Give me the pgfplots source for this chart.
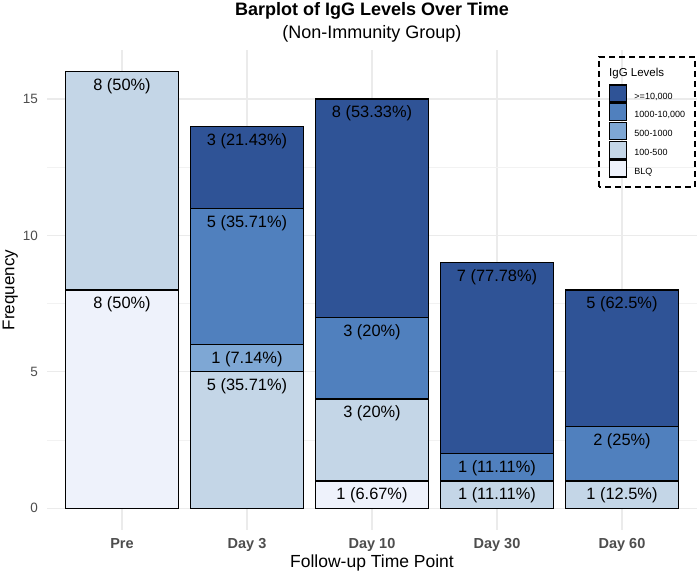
\documentclass[border=0pt]{standalone}
\usepackage{fontspec}
\setmainfont{Liberation Sans}
\usepackage{pgfplots}
\usepackage{pgfplotstable}
\pgfplotsset{compat=1.18}

\definecolor{cBLQ}{RGB}{238,242,251}
\definecolor{cLow}{RGB}{196,214,231}
\definecolor{cMid}{RGB}{126,167,212}
\definecolor{cHigh}{RGB}{80,128,190}
\definecolor{cTop}{RGB}{47,83,150}
\definecolor{tickgray}{RGB}{77,77,77}

\newcommand{\fs}[1]{\fontsize{#1}{#1}\selectfont}

% one table per IgG level, x = time point index
\pgfplotstableread{
x y lab
0 8 {8 (50\%)}
1 0 {}
2 1 {1 (6.67\%)}
3 0 {}
4 0 {}
}\tblq
\pgfplotstableread{
x y lab
0 8 {8 (50\%)}
1 5 {5 (35.71\%)}
2 3 {3 (20\%)}
3 1 {1 (11.11\%)}
4 1 {1 (12.5\%)}
}\tlow
\pgfplotstableread{
x y lab
0 0 {}
1 1 {1 (7.14\%)}
2 0 {}
3 0 {}
4 0 {}
}\tmid
\pgfplotstableread{
x y lab
0 0 {}
1 5 {5 (35.71\%)}
2 3 {3 (20\%)}
3 1 {1 (11.11\%)}
4 2 {2 (25\%)}
}\thigh
\pgfplotstableread{
x y lab
0 0 {}
1 3 {3 (21.43\%)}
2 8 {8 (53.33\%)}
3 7 {7 (77.78\%)}
4 5 {5 (62.5\%)}
}\ttop

\begin{document}
\begin{tikzpicture}
\useasboundingbox (-47bp,-43bp) rectangle (653bp,530bp);
\begin{axis}[
  at={(0,0)}, anchor=south west,
  scale only axis, width=650bp, height=480bp,
  /pgf/number format/assume math mode=true,
  ybar stacked, bar width=0.9,
  xmin=-0.6, xmax=4.6, ymin=-0.8, ymax=16.8,
  xtick={0,1,2,3,4},
  xticklabels={Pre,Day 3,Day 10,Day 30,Day 60},
  ytick={0,5,10,15}, minor ytick={2.5,7.5,12.5},
  xmajorgrids, ymajorgrids, yminorgrids,
  major grid style={draw=black!8, line width=1.2bp},
  minor grid style={draw=black!5, line width=0.6bp},
  axis line style={draw=none},
  major tick length=0pt, minor tick length=0pt,
  tick style={draw=none},
  xticklabel style={anchor=base, yshift=-18bp, font=\bfseries\fs{14.5bp}, text=tickgray},
  yticklabel style={anchor=east, inner sep=0pt, xshift=-9bp, font=\fs{13.5bp}, text=tickgray},
  xlabel={Follow-up Time Point},
  ylabel={Frequency},
  x label style={at={([yshift=-37bp]axis description cs:0.5,0)}, anchor=base, font=\fs{17.5bp}},
  y label style={at={([xshift=-32.5bp]axis description cs:0,0.5)}, anchor=base, font=\fs{17bp}},
  point meta=explicit symbolic,
  visualization depends on={rawy \as \rawy},
  nodes near coords,
  nodes near coords align={center},
  every node near coord/.append style={font=\fs{16.4bp}, text=black, inner sep=0pt,
    anchor=center, yshift={\rawy*13.636bp-14.6bp}},
  legend style={at={(axis description cs:0.8646,0.929)}, anchor=north west,
    draw=none, fill=none, inner sep=0pt, row sep=0.5bp, column sep=7bp,
    font=\fs{9bp}, nodes={inner sep=0pt}},
  legend cell align=left,
  reverse legend,
  legend image code/.code={\draw[#1, draw=black, line width=1.3bp] (0bp,-5.3bp) rectangle (17bp,11.7bp);},
]
\addplot[fill=cBLQ, draw=black, line width=1.3bp] table[x=x, y=y, meta=lab] {\tblq};
\addlegendentry{BLQ}
\addplot[fill=cLow, draw=black, line width=1.3bp] table[x=x, y=y, meta=lab] {\tlow};
\addlegendentry{100-500}
\addplot[fill=cMid, draw=black, line width=1.3bp] table[x=x, y=y, meta=lab] {\tmid};
\addlegendentry{500-1000}
\addplot[fill=cHigh, draw=black, line width=1.3bp] table[x=x, y=y, meta=lab] {\thigh};
\addlegendentry{1000-10,000}
\addplot[fill=cTop, draw=black, line width=1.3bp] table[x=x, y=y, meta=lab] {\ttop};
\addlegendentry{>=10,000}
\end{axis}
\draw[dash pattern=on 6bp off 4bp, line width=1.6bp] (552bp,343bp) rectangle (648bp,473bp);
\node[anchor=base west, inner sep=0pt, font=\fs{11.5bp}] at (562bp,453bp) {IgG Levels};
\node[anchor=base, inner sep=0pt, font=\bfseries\fs{18bp}] at (325bp,514.4bp) {Barplot of IgG Levels Over Time};
\node[anchor=base, inner sep=0pt, font=\fs{18bp}] at (325bp,491.5bp) {(Non-Immunity Group)};
\end{tikzpicture}
\end{document}
